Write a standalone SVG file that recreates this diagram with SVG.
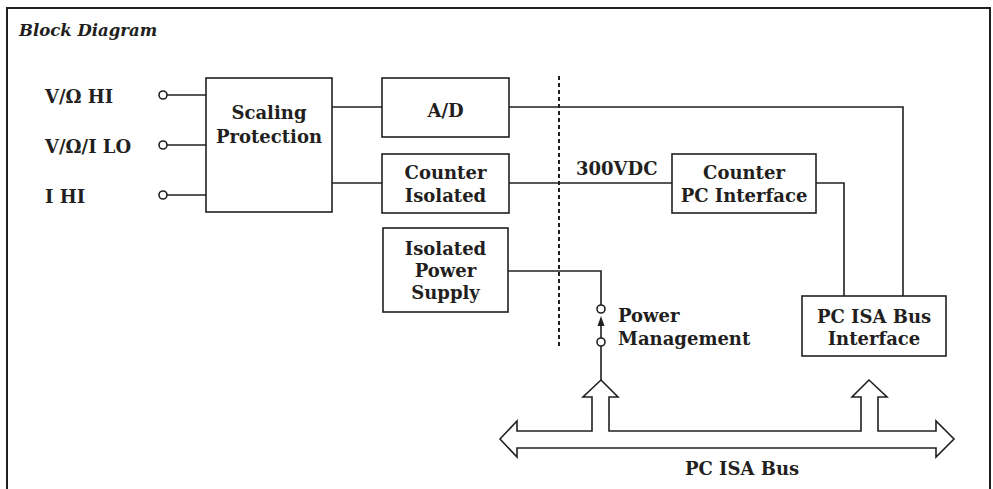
<svg xmlns="http://www.w3.org/2000/svg" width="993" height="489" viewBox="0 0 993 489">
<style>
text{font-family:"DejaVu Serif","Liberation Serif",serif;font-weight:bold;font-size:18px;fill:#231f20}
.c{text-anchor:middle}
.box{fill:#fff;stroke:#231f20;stroke-width:1.6}
.ln{fill:none;stroke:#231f20;stroke-width:1.6}
</style>
<rect width="993" height="489" fill="#fff"/>
<path d="M7,489 V8 H990 V489" fill="none" stroke="#231f20" stroke-width="2"/>
<text x="19" y="36" style="font-style:italic;font-size:16.5px">Block Diagram</text>
<g id="connectors">
<path class="ln" d="M167,95 H206 M167,145 H206 M167,195 H206"/>
<path class="ln" d="M332,107 H382 M509,107 H903 V296"/>
<path class="ln" d="M332,183 H382 M509,183 H672 M816,183 H844 V296"/>
<path class="ln" d="M508,271 H601 V305 M601,346 V380"/>
<path class="ln" d="M601,338 V324"/>
<path d="M601,316 L597.5,326 L604.5,326 Z" fill="#231f20"/>
<line x1="559" y1="76" x2="559" y2="346" stroke="#231f20" stroke-width="2" stroke-dasharray="4,3"/>
</g>
<g id="inputs">
<circle cx="163" cy="95" r="4" class="box"/>
<circle cx="163" cy="145" r="4" class="box"/>
<circle cx="163" cy="195" r="4" class="box"/>
<text x="45" y="103">V/Ω HI</text>
<text x="45" y="153">V/Ω/I LO</text>
<text x="45" y="203">I HI</text>
</g>
<g id="scaling">
<rect class="box" x="206" y="78" width="126" height="134"/>
<text class="c" x="269" y="119">Scaling</text>
<text class="c" x="269" y="143">Protection</text>
</g>
<g id="ad">
<rect class="box" x="382" y="78" width="127" height="59"/>
<text class="c" x="445.5" y="117">A/D</text>
</g>
<g id="counter-isolated">
<rect class="box" x="382" y="154" width="127" height="59"/>
<text class="c" x="445.5" y="179">Counter</text>
<text class="c" x="445.5" y="202">Isolated</text>
</g>
<g id="vdc">
<text x="576" y="175">300VDC</text>
</g>
<g id="counter-pc">
<rect class="box" x="672" y="154" width="144" height="59"/>
<text class="c" x="744" y="179">Counter</text>
<text class="c" x="744" y="202">PC Interface</text>
</g>
<g id="power-supply">
<rect class="box" x="383" y="228" width="125" height="84"/>
<text class="c" x="445.5" y="255">Isolated</text>
<text class="c" x="445.5" y="277">Power</text>
<text class="c" x="445.5" y="299">Supply</text>
</g>
<g id="power-mgmt">
<circle cx="601" cy="309" r="4" class="box"/>
<circle cx="601" cy="342" r="4" class="box"/>
<text x="618" y="322">Power</text>
<text x="618" y="345">Management</text>
</g>
<g id="isa-interface">
<rect class="box" x="802" y="296" width="144" height="60"/>
<text class="c" x="874" y="323">PC ISA Bus</text>
<text class="c" x="874" y="345">Interface</text>
</g>
<g id="bus">
<polygon class="box" points="500,439 517,421 517,431 592,431 592,397 583,397 601,380 618,397 609,397 609,431 861,431 861,397 852,397 869,380 887,397 878,397 878,431 936,431 936,421 954,439 936,457 936,448 517,448 517,457"/>
<text class="c" x="742" y="475">PC ISA Bus</text>
</g>
</svg>
